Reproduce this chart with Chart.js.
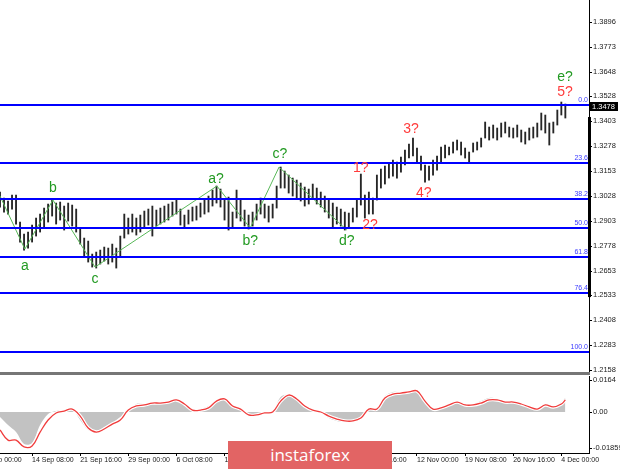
<!DOCTYPE html>
<html><head><meta charset="utf-8">
<script src="https://cdn.jsdelivr.net/npm/chart.js@4/dist/chart.umd.min.js"></script>
<style>
html,body{margin:0;padding:0;background:#fff;width:620px;height:469px;overflow:hidden;}
#wrap{position:relative;width:620px;height:469px;}
#c1{position:absolute;left:0;top:0;}
#c2{position:absolute;left:0;top:376px;}
#logo{position:absolute;left:228px;top:441px;width:164px;height:28px;background:#e26464;color:#fff;font:400 17px 'Open Sans',sans-serif;text-align:center;line-height:27px;}
</style></head><body>
<div id="wrap">
<canvas id="c1" width="620" height="376"></canvas>
<canvas id="c2" width="620" height="93"></canvas>
<div id="logo">instaforex</div>
</div>
<script>
// ---------- DATA ----------
const barHigh = [
1.3048,1.3018,1.3003,1.3033,1.3033,1.2898,1.2838,1.2848,1.2883,1.2918,
1.2938,1.2968,1.2988,1.3008,1.2993,1.2998,1.2978,1.2993,1.2983,1.2963,
1.2868,1.2818,1.2803,1.2738,1.2748,1.2758,1.2773,1.2768,1.2788,1.2768,
1.2828,1.2938,1.2918,1.2938,1.2918,1.2933,1.2953,1.2963,1.2978,1.2958,
1.2968,1.2978,1.2988,1.2998,1.3008,1.2963,1.2933,1.2958,1.2973,1.2978,
1.2993,1.3008,1.3028,1.3058,1.3078,1.3063,1.3008,1.3023,1.2948,1.3058,
1.3008,1.2958,1.2933,1.2948,1.2988,1.3018,1.2988,1.2978,1.2988,1.3078,
1.3173,1.3153,1.3133,1.3118,1.3108,1.3093,1.3073,1.3063,1.3088,1.3068,
1.3048,1.3028,1.3008,1.2993,1.2973,1.2963,1.2948,1.2943,1.2968,1.3008,
1.3138,1.3033,1.3048,1.3018,1.3133,1.3163,1.3178,1.3193,1.3208,1.3198,
1.3223,1.3258,1.3288,1.3318,1.3268,1.3228,1.3183,1.3178,1.3208,1.3228,
1.3273,1.3283,1.3273,1.3298,1.3308,1.3298,1.3268,1.3248,1.3293,1.3298,
1.3318,1.3398,1.3373,1.3383,1.3368,1.3393,1.3398,1.3373,1.3368,1.3383,
1.3358,1.3348,1.3368,1.3373,1.3393,1.3443,1.3433,1.3393,1.3398,1.3458,
1.3498,1.3488];
const barLow = [
1.2973,1.2948,1.2938,1.2963,1.2888,1.2798,1.2758,1.2768,1.2798,1.2828,
1.2848,1.2868,1.2898,1.2928,1.2888,1.2908,1.2858,1.2903,1.2878,1.2848,
1.2788,1.2728,1.2698,1.2673,1.2668,1.2688,1.2703,1.2688,1.2698,1.2668,
1.2728,1.2818,1.2838,1.2848,1.2833,1.2848,1.2868,1.2883,1.2828,1.2878,
1.2888,1.2898,1.2908,1.2928,1.2938,1.2883,1.2868,1.2888,1.2903,1.2908,
1.2923,1.2938,1.2948,1.2978,1.2993,1.2973,1.2908,1.2858,1.2868,1.2918,
1.2903,1.2878,1.2863,1.2878,1.2908,1.2938,1.2918,1.2898,1.2918,1.2968,
1.3068,1.3068,1.3043,1.3028,1.3013,1.3003,1.2978,1.2988,1.3018,1.2988,
1.2973,1.2948,1.2918,1.2868,1.2888,1.2878,1.2858,1.2873,1.2898,1.2923,
1.2983,1.2918,1.2938,1.2938,1.3008,1.3068,1.3088,1.3118,1.3128,1.3118,
1.3148,1.3183,1.3218,1.3228,1.3193,1.3158,1.3098,1.3108,1.3133,1.3158,
1.3198,1.3218,1.3233,1.3243,1.3258,1.3233,1.3218,1.3193,1.3248,1.3258,
1.3273,1.3318,1.3308,1.3318,1.3308,1.3323,1.3343,1.3323,1.3318,1.3323,
1.3298,1.3288,1.3308,1.3318,1.3323,1.3358,1.3343,1.3283,1.3343,1.3383,
1.3433,1.3418];

const priceTicks = [1.3896,1.3773,1.3648,1.3528,1.3403,1.3278,1.3153,1.3028,1.2903,1.2778,1.2653,1.2533,1.2408,1.2283,1.2158];
const lastPrice = 1.3478;
const axisMarkRange = [1.3423, 1.2523];

const fibLevels = [1.3483,1.3193,1.3013,1.2868,1.2723,1.2543,1.2248];
const fibLabels = ['0.0','23.6','38.2','50.0','61.8','76.4','100.0'];

const waveLineIdx   = [0, 6.2, 13.2, 23.7, 54.1, 62.4, 69.6, 86.5];
const waveLinePrice = [1.3028,1.2763,1.3008,1.2673,1.3078,1.2868,1.3173,1.2858];

const greenText  = ['a','b','c','a?','b?','c?','d?','e?'];
const greenIdx   = [6.2,13.2,23.7,53.9,62.4,69.8,86.5,140.9];
const greenPrice = [1.2678,1.3068,1.2613,1.3113,1.2803,1.3238,1.2803,1.3623];
const redText  = ['1?','2?','3?','4?','5?'];
const redIdx   = [90.0,92.3,102.5,105.7,140.9];
const redPrice = [1.3168,1.2883,1.3363,1.3043,1.3548];

const macdMain = [
-0.0026,-0.0067,-0.0103,-0.0164,-0.0159,-0.0067,-0.0010,0.0005,0.0010,0.0015,
-0.0041,-0.0092,-0.0103,-0.0077,-0.0056,-0.0026,0.0000,0.0041,0.0041,0.0046,
0.0051,0.0056,0.0067,0.0041,0.0010,0.0015,0.0031,0.0062,0.0067,0.0026,
0.0015,-0.0010,-0.0015,-0.0005,0.0000,0.0077,0.0087,0.0062,0.0026,0.0005,
-0.0005,-0.0031,-0.0046,-0.0051,-0.0051,-0.0026,0.0015,0.0015,0.0082,0.0103,
0.0103,0.0108,0.0113,0.0051,0.0015,0.0026,0.0041,0.0056,0.0041,0.0041,
0.0056,0.0072,0.0067,0.0056,0.0051,0.0041,0.0026,0.0015,0.0041,0.0026,
0.0051,0.0072];
const macdSignal = [
-0.0092,-0.0144,-0.0144,-0.0179,-0.0174,-0.0103,-0.0041,-0.0005,0.0005,0.0015,
-0.0021,-0.0082,-0.0103,-0.0087,-0.0062,-0.0041,0.0010,0.0031,0.0036,0.0046,
0.0046,0.0051,0.0062,0.0041,0.0010,0.0010,0.0021,0.0056,0.0067,0.0031,
0.0015,-0.0015,-0.0015,-0.0005,0.0000,0.0056,0.0087,0.0067,0.0031,0.0010,
0.0000,-0.0021,-0.0036,-0.0046,-0.0046,-0.0031,0.0015,0.0015,0.0072,0.0092,
0.0097,0.0103,0.0108,0.0056,0.0015,0.0021,0.0036,0.0051,0.0036,0.0036,
0.0046,0.0062,0.0062,0.0051,0.0051,0.0041,0.0026,0.0015,0.0036,0.0026,
0.0041,0.0062];
const macdTicks = [0.0164, 0, -0.01859];
const macdTickLabels = ['0.0164','0.00','-0.01859'];

const dateTickIdx = [-4,8,20,32,44,56,68,80,92,104,116,128,140];
const dateTickLabels = ['7 Sep 00:00','14 Sep 08:00','21 Sep 16:00','29 Sep 00:00','6 Oct 08:00','13 Oct 16:00','21 Oct 00:00','28 Oct 08:00','4 Nov 16:00','12 Nov 00:00','19 Nov 08:00','26 Nov 16:00','4 Dec 00:00'];

// ---------- BUILD ----------
const X_MIN = 0, X_MAX = 146.9;
const FONT = 'Liberation Sans';
const barPts = barHigh.map((h, i) => ({x: i, y: [barLow[i], h]}));
const wavePts = waveLineIdx.map((v, i) => ({x: v, y: waveLinePrice[i]}));
const macdIdx = macdMain.map((_, k) => k === macdMain.length - 1 ? 141 : k * 2);
const mainPts = macdMain.map((v, k) => ({x: macdIdx[k], y: v}));
const sigPts = macdSignal.map((v, k) => ({x: macdIdx[k], y: v}));

const mainDecor = {
  id: 'mainDecor',
  afterDatasetsDraw(chart) {
    const {ctx, chartArea: a, scales: {x, y}} = chart;
    ctx.save();
    fibLevels.forEach((lv, k) => {
      const py = Math.round(y.getPixelForValue(lv));
      ctx.fillStyle = '#0000ff';
      ctx.fillRect(a.left, py - 1, a.right - a.left, 2);
      ctx.font = '7px "' + FONT + '"';
      ctx.fillStyle = '#3a3aff';
      ctx.textAlign = 'right'; ctx.textBaseline = 'bottom';
      ctx.fillText(fibLabels[k], a.right - 1, py - 1);
    });
    ctx.font = '14px "' + FONT + '"';
    ctx.textAlign = 'center'; ctx.textBaseline = 'middle';
    ctx.fillStyle = '#229a22';
    greenText.forEach((t, k) => ctx.fillText(t, x.getPixelForValue(greenIdx[k]), y.getPixelForValue(greenPrice[k])));
    ctx.fillStyle = '#ff3c3c';
    redText.forEach((t, k) => ctx.fillText(t, x.getPixelForValue(redIdx[k]), y.getPixelForValue(redPrice[k])));
    ctx.restore();
  },
  afterDraw(chart) {
    const {ctx, chartArea: a, scales: {y}} = chart;
    ctx.save();
    ctx.fillStyle = '#767676';
    ctx.fillRect(0, a.bottom + 1, a.right + 1, 3);
    ctx.fillStyle = '#000';
    const y1 = y.getPixelForValue(axisMarkRange[0]), y2 = y.getPixelForValue(axisMarkRange[1]);
    ctx.fillRect(a.right - 1, y1, 3, y2 - y1);
    const py = Math.round(y.getPixelForValue(lastPrice));
    ctx.fillRect(a.right + 1, py - 4, 28, 9);
    ctx.fillStyle = '#fff';
    ctx.font = '7.5px "' + FONT + '"';
    ctx.textAlign = 'left'; ctx.textBaseline = 'middle';
    ctx.fillText(lastPrice.toFixed(4), a.right + 3, py + 0.5);
    ctx.restore();
  }
};

const yTickCommon = {
  font: {family: FONT, size: 7.5}, color: '#1a1a1a', padding: 1, autoSkip: false
};

new Chart(document.getElementById('c1'), {
  type: 'bar',
  data: {datasets: [
    {type: 'line', data: wavePts, borderColor: '#58b858', borderWidth: 1, pointRadius: 0, tension: 0, order: 0},
    {type: 'bar', data: barPts, backgroundColor: '#262626', barThickness: 1.2, order: 1}
  ]},
  options: {
    responsive: false, animation: false, events: [],
    layout: {padding: {left: 0, right: 0, top: 0, bottom: 5}},
    plugins: {legend: {display: false}, tooltip: {enabled: false}},
    scales: {
      x: {type: 'linear', min: X_MIN, max: X_MAX, display: false, offset: false, bounds: 'data'},
      y: {position: 'right', min: 1.21535, max: 1.4008, bounds: 'data',
        afterBuildTicks: s => { s.ticks = priceTicks.map(v => ({value: v})); },
        afterFit: s => { s.width = 31; s.paddingTop = 0; s.paddingBottom = 0; },
        ticks: Object.assign({callback: v => Number(v).toFixed(4)}, yTickCommon),
        grid: {drawOnChartArea: false, tickLength: 3, color: '#000'},
        border: {color: '#000', width: 1}
      }
    }
  },
  plugins: [mainDecor]
});

new Chart(document.getElementById('c2'), {
  type: 'line',
  data: {datasets: [
    {data: mainPts, fill: 'origin', backgroundColor: '#c2c2c2', borderWidth: 0, borderColor: 'rgba(0,0,0,0)', pointRadius: 0, tension: 0.35, order: 3},
    {data: sigPts, fill: false, borderColor: '#ffffff', borderWidth: 3.5, pointRadius: 0, tension: 0.4, order: 2},
    {data: sigPts, fill: false, borderColor: '#f03c3c', borderWidth: 1.3, pointRadius: 0, tension: 0.4, order: 1}
  ]},
  options: {
    responsive: false, animation: false, events: [],
    layout: {padding: 0},
    plugins: {legend: {display: false}, tooltip: {enabled: false}},
    scales: {
      x: {type: 'linear', min: X_MIN, max: X_MAX, offset: false, bounds: 'data',
        afterBuildTicks: s => { s.ticks = dateTickIdx.map(v => ({value: v})); },
        afterFit: s => { s.height = 16; s.paddingLeft = 0; s.paddingRight = 0; },
        ticks: {autoSkip: false, maxRotation: 0, minRotation: 0, align: 'start', padding: 0,
          callback: v => dateTickLabels[dateTickIdx.indexOf(v)],
          font: {family: FONT, size: 7}, color: '#1a1a1a'},
        grid: {drawOnChartArea: false, tickLength: 3, color: '#000'},
        border: {color: '#000', width: 1}
      },
      y: {position: 'right', min: -0.02101, max: 0.01845, bounds: 'data',
        afterBuildTicks: s => { s.ticks = macdTicks.map(v => ({value: v})); },
        afterFit: s => { s.width = 31; s.paddingTop = 0; s.paddingBottom = 0; },
        ticks: Object.assign({callback: v => macdTickLabels[macdTicks.indexOf(v)]}, yTickCommon),
        grid: {drawOnChartArea: false, tickLength: 3, color: '#000'},
        border: {color: '#000', width: 1}
      }
    }
  }
});
</script>
</body></html>
